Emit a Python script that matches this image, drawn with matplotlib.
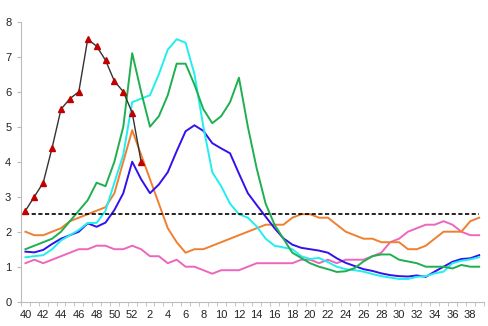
import matplotlib
matplotlib.use('Agg')
import matplotlib.pyplot as plt
import numpy as np

plt.rcParams['font.family'] = ['Liberation Sans', 'DejaVu Sans']

# weeks 40..52 then 1..39
weeks = list(range(40, 53)) + list(range(1, 40))
tick_weeks = list(range(40, 53, 2)) + list(range(2, 40, 2))

black = [2.6, 3.0, 3.4, 4.4, 5.5, 5.8, 6.0, 7.5, 7.3, 6.9, 6.3, 6.0, 5.4, 4.0]

green = [1.5, 1.6, 1.7, 1.8, 2.0, 2.3, 2.6, 2.9, 3.4, 3.3, 4.0, 5.0, 7.1,
         6.0, 5.0, 5.3, 5.9, 6.8, 6.8, 6.2, 5.5, 5.1, 5.3, 5.7, 6.4, 5.0,
         3.8, 2.8, 2.2, 1.8, 1.4, 1.25, 1.1, 1.0, 0.93, 0.85, 0.87, 0.96, 1.15,
         1.3, 1.35, 1.35, 1.2, 1.15, 1.1, 1.0, 1.0, 1.0, 0.95, 1.05, 1.0, 1.0]

cyan = [1.27, 1.3, 1.33, 1.5, 1.75, 1.9, 2.05, 2.25, 2.25, 2.6, 3.4, 4.2, 5.7,
        5.8, 5.9, 6.5, 7.2, 7.5, 7.4, 6.5, 5.0, 3.7, 3.3, 2.8, 2.5, 2.4,
        2.15, 1.8, 1.6, 1.55, 1.5, 1.3, 1.22, 1.25, 1.13, 1.0, 0.93, 0.9, 0.86,
        0.79, 0.73, 0.69, 0.65, 0.65, 0.71, 0.73, 0.81, 0.86, 1.1, 1.17, 1.21, 1.27]

blue = [1.43, 1.41, 1.48, 1.65, 1.8, 1.9, 2.0, 2.24, 2.14, 2.26, 2.62, 3.1, 4.0,
        3.5, 3.1, 3.35, 3.7, 4.3, 4.87, 5.04, 4.88, 4.53, 4.38, 4.24, 3.66, 3.1,
        2.76, 2.43, 2.1, 1.81, 1.63, 1.54, 1.5, 1.46, 1.4, 1.24, 1.11, 1.02, 0.93,
        0.88, 0.81, 0.76, 0.73, 0.72, 0.75, 0.71, 0.86, 1.0, 1.14, 1.22, 1.24, 1.33]

orange = [2.0, 1.9, 1.9, 2.0, 2.1, 2.3, 2.4, 2.5, 2.6, 2.7, 3.1, 4.0, 4.9,
          4.2, 3.5, 2.8, 2.1, 1.7, 1.4, 1.5, 1.5, 1.6, 1.7, 1.8, 1.9, 2.0,
          2.1, 2.2, 2.2, 2.2, 2.4, 2.5, 2.5, 2.4, 2.4, 2.2, 2.0, 1.9, 1.8,
          1.8, 1.7, 1.7, 1.7, 1.5, 1.5, 1.6, 1.8, 2.0, 2.0, 2.0, 2.3, 2.4]

pink = [1.1, 1.2, 1.1, 1.2, 1.3, 1.4, 1.5, 1.5, 1.6, 1.6, 1.5, 1.5, 1.6,
        1.5, 1.3, 1.3, 1.1, 1.2, 1.0, 1.0, 0.9, 0.8, 0.9, 0.9, 0.9, 1.0,
        1.1, 1.1, 1.1, 1.1, 1.1, 1.2, 1.2, 1.1, 1.2, 1.1, 1.2, 1.2, 1.2,
        1.3, 1.4, 1.7, 1.8, 2.0, 2.1, 2.2, 2.2, 2.3, 2.2, 2.0, 1.9, 1.9]

threshold = 2.5

x = np.arange(len(weeks))

fig = plt.figure(figsize=(4.88, 3.26), dpi=100)
ax = fig.add_axes([0.043, 0.0745, 0.948, 0.859])

lw = 1.4
ax.plot(x, pink, color='#EE66BB', lw=lw)
ax.plot(x, orange, color='#F07F2F', lw=lw)
ax.plot(x, blue, color='#3311EE', lw=lw)
ax.plot(x, cyan, color='#22EEEE', lw=lw)
ax.plot(x, green, color='#1EB050', lw=lw)
ax.plot(x, [threshold] * len(x), color='black', lw=1.2, linestyle=(0, (2.5, 1.5)))
ax.plot(x[:len(black)], black, color='#333333', lw=1.0,
        marker='^', markersize=5, markerfacecolor='#C00000', markeredgecolor='#C00000')

ax.set_xlim(-0.5, len(weeks) - 0.5)
ax.set_ylim(0, 8)
ax.set_yticks(range(0, 9))

tick_pos = [weeks.index(w) for w in tick_weeks]
ax.set_xticks(tick_pos)
ax.set_xticklabels([str(w) for w in tick_weeks])
ax.set_xticks(np.arange(len(weeks) + 1) - 0.5, minor=True)
ax.tick_params(axis='x', which='major', length=0, pad=6, labelsize=8, colors='#222222')
ax.tick_params(axis='x', which='minor', length=3, color='#BBBBBB')
ax.tick_params(axis='y', length=3, color='#BBBBBB', labelsize=8, labelcolor='#222222', pad=4)

for s in ['top', 'right']:
    ax.spines[s].set_visible(False)
for s in ['left', 'bottom']:
    ax.spines[s].set_color('#BBBBBB')
    ax.spines[s].set_linewidth(0.8)

ax.set_xlabel('Week', fontsize=8, labelpad=6, color='#222222')

fig.savefig('out.png', dpi=100)
